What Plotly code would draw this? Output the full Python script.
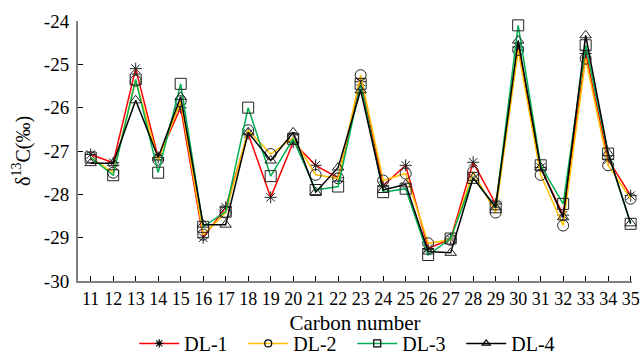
import plotly.graph_objects as go

carbon = list(range(11, 36))
dl1 = [-27.08, -27.27, -25.10, -27.15, -26.00, -29.00, -28.30, -26.60, -28.07, -26.80,
       -27.33, -27.62, -25.40, -27.80, -27.33, -29.25, -29.03, -27.26, -28.22, -24.60,
       -27.38, -28.48, -24.75, -27.20, -28.03]
dl2 = [-27.15, -27.50, -25.38, -27.20, -25.85, -28.93, -28.42, -26.52, -27.07, -26.70,
       -27.55, -27.63, -25.25, -27.68, -27.52, -29.13, -29.05, -27.48, -28.42, -24.67,
       -27.55, -28.72, -24.87, -27.33, -28.10]
dl3 = [-27.15, -27.56, -25.35, -27.50, -25.45, -28.75, -28.40, -26.00, -27.58, -26.72,
       -27.90, -27.82, -25.45, -27.95, -27.87, -29.40, -29.02, -27.62, -28.30, -24.10,
       -27.33, -28.22, -24.56, -27.06, -28.68]
dl4 = [-27.28, -27.28, -25.83, -27.15, -25.75, -28.70, -28.70, -26.57, -27.22, -26.57,
       -27.95, -27.38, -25.60, -27.90, -27.77, -29.32, -29.35, -27.62, -28.30, -24.45,
       -27.38, -28.53, -24.33, -27.05, -28.67]
y_ticks = [-30, -29, -28, -27, -26, -25, -24]

names = ["DL-1", "DL-2", "DL-3", "DL-4"]
series = [dl1, dl2, dl3, dl4]
colors = ["#FF0000", "#FFC000", "#00B050", "#000000"]
symbols = ["asterisk-open", "circle-open", "square-open", "triangle-up-open"]
sizes = [10, 11, 11, 10]

FONT = "Liberation Serif, Times New Roman, serif"

fig = go.Figure()
for n, s, c, sym, sz in zip(names, series, colors, symbols, sizes):
    fig.add_trace(go.Scatter(
        x=carbon, y=s, name=n, mode="lines+markers",
        line=dict(color=c, width=1.5),
        marker=dict(symbol=sym, size=sz, color="#222222",
                    line=dict(color="#222222", width=1)),
        cliponaxis=False, showlegend=False,
    ))
for n, c, sym in zip(names, colors, symbols):
    fig.add_trace(go.Scatter(
        x=[None], y=[None], name=n, mode="lines+markers",
        line=dict(color=c, width=1.5),
        marker=dict(symbol=sym, size=7, color="#000000",
                    line=dict(color="#000000", width=1.2)),
        showlegend=True,
    ))

fig.update_layout(
    width=640, height=360,
    margin=dict(l=78, r=8, t=21, b=79, autoexpand=False),
    paper_bgcolor="white", plot_bgcolor="white",
    font=dict(family=FONT, size=17, color="#000000"),
    showlegend=True,
    legend=dict(orientation="h", x=0.495, xanchor="center", xref="paper",
                y=-0.315, yanchor="bottom",
                font=dict(family=FONT, size=20),
                itemwidth=40, entrywidth=54, entrywidthmode="pixels",
                bgcolor="rgba(0,0,0,0)"),
)
fig.update_xaxes(
    range=[10.436, 35.06], tickmode="array", tickvals=carbon,
    ticktext=[str(c) for c in carbon],
    ticks="inside", ticklen=5, tickwidth=1, tickcolor="#000000",
    showline=True, linecolor="#808080", linewidth=2,
    showgrid=False, zeroline=False, automargin=False,
    tickfont=dict(family=FONT, size=18),
    title=dict(text="Carbon number", font=dict(family=FONT, size=21), standoff=8),
)
fig.update_yaxes(
    range=[-30, -24], tickmode="array", tickvals=y_ticks,
    ticktext=["-" + str(abs(v)) for v in y_ticks],
    ticks="inside", ticklen=5, tickwidth=1, tickcolor="#000000",
    showline=True, linecolor="#808080", linewidth=2,
    showgrid=False, zeroline=False, automargin=False,
    tickfont=dict(family=FONT, size=19),
    ticklabelstandoff=3,
    title=dict(text="δ<sup>13</sup>C(‰)", font=dict(family=FONT, size=20), standoff=8),
)

fig.write_html("out.html")
